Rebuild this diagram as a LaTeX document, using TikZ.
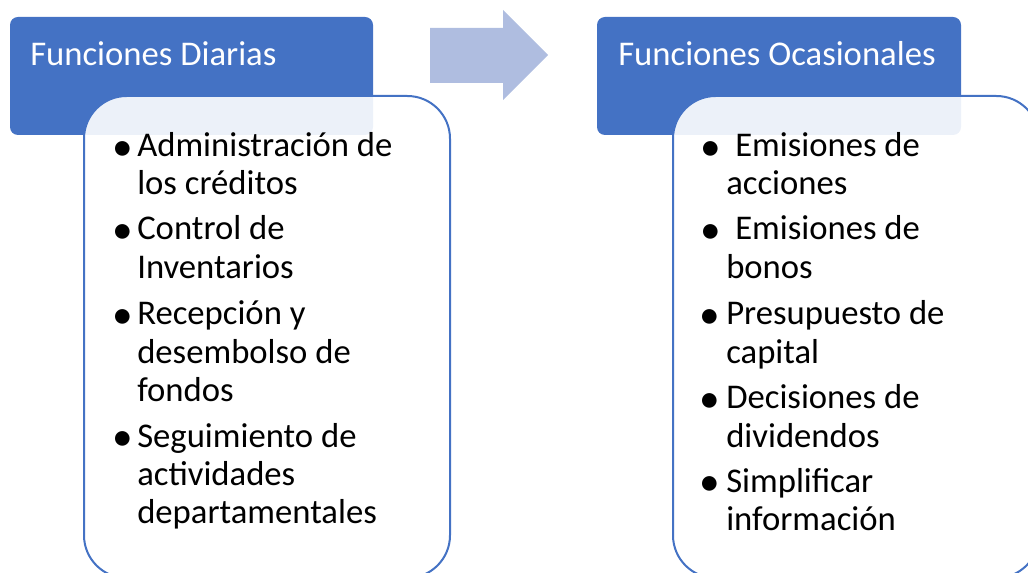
\documentclass[tikz,border=0pt]{standalone}
\usepackage{fontspec}
\setmainfont{Carlito}
\definecolor{hdrblue}{RGB}{68,114,196}
\definecolor{arrowblue}{RGB}{175,189,224}
\definecolor{txtblack}{RGB}{0,0,0}
\begin{document}
\begin{tikzpicture}[x=0.75pt,y=-0.75pt,
  hdrbox/.style={fill=hdrblue,draw=none,rounded corners=6pt},
  bodybox/.style={fill=white,fill opacity=0.9,draw=hdrblue,draw opacity=1,line width=1.5pt,rounded corners=32pt},
  hdrtxt/.style={anchor=base west,inner sep=0pt,text=white,font=\fontsize{26}{31}\selectfont},
  line/.style={anchor=base west,inner sep=0pt,text=txtblack,font=\fontsize{26}{31}\selectfont},
  bul/.style={anchor=base,inner sep=0pt,yshift=-2.5pt,text=txtblack,font=\fontsize{31}{31}\selectfont}]
\useasboundingbox (0,0) rectangle (1028,573);
\begin{scope}
\clip (0,0) rectangle (1028,573);
% left column
\path[hdrbox] (10,17) rectangle (373,135);
\node[hdrtxt] (h1) at (30,66) {Funciones Diarias};
\path[bodybox] (84,96) rectangle (450,578);
% right column
\path[hdrbox] (597,17) rectangle (961,135);
\node[hdrtxt] (h2) at (618,66) {Funciones Ocasionales};
\path[bodybox] (673,96) rectangle (1039,578);
% arrow
\fill[arrowblue] (430,28) -- (503,28) -- (503,10) -- (548,55) -- (503,100) -- (503,83) -- (430,83) -- cycle;
% left items
\node[bul] (lb1) at (123,157) {•};
\node[line] (l1) at (137,157) {Administración de};
\node[line] (l2) at (137,195) {los créditos};
\node[bul] (lb2) at (123,240) {•};
\node[line] (l3) at (137,240) {Control de};
\node[line] (l4) at (137,279) {Inventarios};
\node[bul] (lb3) at (123,325) {•};
\node[line] (l5) at (137,325) {Recepción y};
\node[line] (l6) at (137,364) {desembolso de};
\node[line] (l7) at (137,402) {fondos};
\node[bul] (lb4) at (123,447) {•};
\node[line] (l8) at (137,447) {Seguimiento de};
\node[line] (l9) at (137,485) {actividades};
\node[line] (l10) at (137,523) {departamentales};
% right items
\node[bul] (rb1) at (711,157) {•};
\node[line] (r1) at (735,157) {Emisiones de};
\node[line] (r2) at (726,195) {acciones};
\node[bul] (rb2) at (711,240) {•};
\node[line] (r3) at (735,240) {Emisiones de};
\node[line] (r4) at (726,279) {bonos};
\node[bul] (rb3) at (710,325) {•};
\node[line] (r5) at (726,325) {Presupuesto de};
\node[line] (r6) at (726,364) {capital};
\node[bul] (rb4) at (710,409) {•};
\node[line] (r7) at (726,409) {Decisiones de};
\node[line] (r8) at (726,447) {dividendos};
\node[bul] (rb5) at (710,492) {•};
\node[line] (r9) at (726,492) {Simplificar};
\node[line] (r10) at (726,530) {información};
\end{scope}
\end{tikzpicture}
\end{document}
